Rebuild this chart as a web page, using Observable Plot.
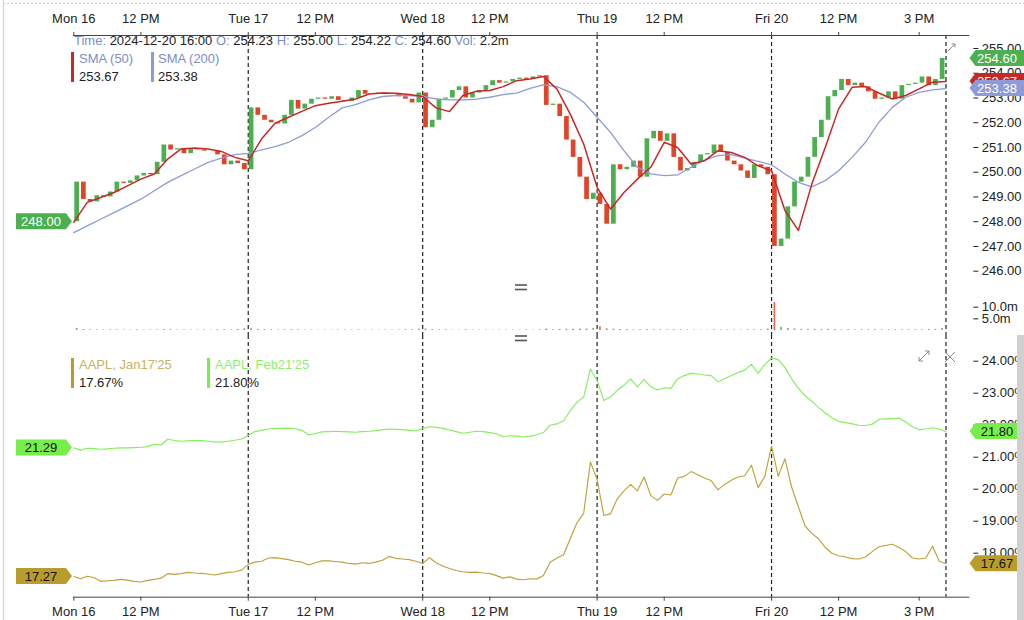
<!DOCTYPE html>
<html><head><meta charset="utf-8">
<script src="https://cdn.jsdelivr.net/npm/d3@7"></script>
<script src="https://cdn.jsdelivr.net/npm/@observablehq/plot@0.6"></script>
<style>
body{margin:0;background:#fff;font-family:"Liberation Sans",Arial,Helvetica,sans-serif;}
#wrap{position:relative;width:1024px;height:620px;overflow:hidden;background:#fff;}
.lbl{position:absolute;font-size:13px;white-space:nowrap;line-height:15px;color:#222;}
.k{color:#7d8ec4;}
.bar{position:absolute;width:3px;height:30px;}
</style></head><body><div id="wrap"></div>
<script>
// ---------- data ----------
const tickT = [0, 2.5, 6.5, 9, 13, 15.5, 19.5, 22, 26, 28.5, 31.5];
const tickLabels = ["Mon 16","12 PM","Tue 17","12 PM","Wed 18","12 PM","Thu 19","12 PM","Fri 20","12 PM","3 PM"];
const dayBreaks = [6.5, 13, 19.5, 26, 32.5];
const priceTicks = [246,247,248,249,250,251,252,253,254,255];
const volTicks = [5, 10];
const ivTicks = [18,19,20,21,22,23,24];
const barStep = 0.25;   // 15-minute bars (trading hours)
const smaStep = 0.5;

// price at each 15-min mark (first = session open)
const price = [248.00,
 249.6,248.9,248.8,249.05,249.0,249.2,249.6,249.55,249.65,249.85,249.95,249.9,250.4,251.1,250.9,250.95,250.75,250.95,250.9,250.85,250.85,250.7,250.3,250.45,250.35,250.1,
 252.6,252.3,252.1,252.0,251.95,252.3,252.9,252.55,252.75,252.95,253.0,252.95,253.05,252.9,252.85,253.0,253.3,253.15,253.15,253.2,253.15,253.15,253.05,252.95,252.8,253.2,
 251.8,252.1,252.95,253.0,253.3,253.45,253.0,253.2,253.3,253.5,253.7,253.6,253.65,253.75,253.8,253.75,253.85,253.9,252.7,252.75,252.25,251.3,250.6,249.8,248.9,249.15,
 248.7,247.9,250.3,250.1,250.2,250.45,249.8,251.35,251.65,251.25,251.55,250.6,250.05,250.15,250.4,250.7,250.75,251.1,250.8,250.45,250.3,250.05,249.75,250.3,250.2,249.9,
 247.0,247.3,248.6,249.6,249.8,250.6,251.4,252.1,253.05,253.3,253.75,253.5,253.6,253.45,253.25,252.95,253.0,253.25,252.95,253.5,253.55,253.6,253.85,253.5,253.75,254.6];

const volume = [
 0.9,0.4,0.3,0.3,0.2,0.3,0.3,0.2,0.2,0.3,0.2,0.2,0.3,0.4,0.3,0.2,0.2,0.2,0.2,0.2,0.2,0.3,0.3,0.3,0.4,0.7,
 0.8,0.4,0.3,0.3,0.2,0.3,0.4,0.3,0.2,0.2,0.2,0.2,0.2,0.2,0.2,0.2,0.3,0.2,0.2,0.2,0.2,0.2,0.2,0.3,0.3,0.6,
 0.6,0.4,0.3,0.3,0.2,0.2,0.3,0.2,0.2,0.2,0.2,0.2,0.2,0.2,0.2,0.2,0.2,0.3,0.6,0.4,0.4,0.5,0.5,0.6,0.6,0.9,
 1.6,0.7,0.6,0.4,0.4,0.3,0.3,0.4,0.3,0.3,0.3,0.3,0.3,0.2,0.2,0.2,0.2,0.3,0.2,0.2,0.2,0.2,0.3,0.3,0.3,0.6,
 12.0,1.4,0.9,0.7,0.5,0.5,0.5,0.4,0.5,0.4,0.3,0.3,0.3,0.3,0.3,0.3,0.3,0.3,0.3,0.3,0.3,0.3,0.3,0.4,0.5,0.9];

const sma50 = [
 247.97,248.78,248.98,249.18,249.45,249.72,249.93,250.53,250.94,250.98,250.94,250.84,250.60,250.46,
 251.35,251.98,252.22,252.46,252.69,252.79,252.87,252.96,253.16,253.20,253.19,253.14,253.06,
 252.60,252.45,253.10,253.27,253.30,253.46,253.70,253.77,253.87,253.37,252.35,251.14,249.39,
 248.51,249.18,249.72,250.20,251.21,251.00,250.33,250.46,250.87,250.80,250.60,250.26,250.06,
 248.45,247.65,249.52,251.00,252.56,253.43,253.46,253.20,252.96,253.10,253.37,253.64,253.67];

const sma200 = [
 247.56,247.83,248.10,248.37,248.64,248.91,249.25,249.59,249.86,250.13,250.40,250.57,250.71,250.76,
 250.90,251.03,251.21,251.48,251.81,252.22,252.60,252.73,252.92,253.06,253.10,253.10,253.06,
 252.96,252.92,252.92,252.95,253.03,253.14,253.20,253.39,253.53,253.46,253.23,252.83,252.22,
 251.61,250.87,250.20,249.93,249.86,249.89,250.20,250.49,250.67,250.71,250.57,250.44,250.30,
 249.93,249.59,249.41,249.66,250.06,250.60,251.21,252.02,252.62,253.03,253.23,253.33,253.38];

const ivFeb = [
 21.29,21.22,21.28,21.27,21.25,21.26,21.28,21.29,21.29,21.30,21.31,21.33,21.40,21.38,21.56,21.52,21.50,21.51,21.52,21.52,21.50,21.48,21.47,21.50,21.53,21.57,
 21.68,21.80,21.84,21.88,21.90,21.90,21.91,21.89,21.84,21.70,21.74,21.79,21.80,21.81,21.80,21.79,21.78,21.80,21.81,21.83,21.86,21.88,21.87,21.86,21.84,21.82,
 21.90,21.95,21.93,21.90,21.85,21.80,21.75,21.78,21.81,21.80,21.77,21.73,21.64,21.67,21.66,21.63,21.66,21.70,21.77,22.00,22.04,22.14,22.45,22.72,22.88,23.75,
 23.40,22.77,22.88,23.09,23.25,23.45,23.20,23.43,23.20,23.10,23.17,23.15,23.45,23.55,23.62,23.60,23.57,23.55,23.36,23.45,23.55,23.65,23.72,23.90,23.62,23.90,
 24.10,24.05,23.80,23.45,23.15,22.92,22.75,22.55,22.38,22.23,22.12,22.08,22.04,22.00,21.99,22.03,22.18,22.20,22.20,22.22,22.10,21.95,21.86,21.88,21.92,21.88,21.80];

const ivJan = [
 17.27,17.20,17.28,17.24,17.12,17.14,17.15,17.18,17.16,17.12,17.10,17.15,17.18,17.22,17.36,17.34,17.36,17.40,17.38,17.37,17.35,17.32,17.36,17.40,17.42,17.47,
 17.65,17.72,17.75,17.85,17.86,17.83,17.80,17.75,17.72,17.63,17.70,17.76,17.76,17.74,17.72,17.68,17.66,17.70,17.68,17.72,17.78,17.90,17.84,17.82,17.80,17.75,
 17.68,17.86,17.70,17.60,17.52,17.46,17.42,17.40,17.41,17.38,17.37,17.30,17.22,17.26,17.19,17.17,17.20,17.19,17.30,17.72,17.85,17.95,18.45,18.95,19.25,20.85,
 20.30,19.18,19.23,19.70,19.95,20.15,19.95,20.38,19.80,19.65,19.85,19.82,20.35,20.40,20.55,20.45,20.35,20.27,19.98,20.15,20.28,20.38,20.42,20.75,20.05,20.40,
 21.35,20.40,20.95,20.06,19.45,18.85,18.62,18.45,18.18,18.00,17.92,17.88,17.83,17.82,17.88,18.05,18.20,18.24,18.28,18.18,18.05,17.85,17.82,17.85,18.22,17.75,17.67];

// ---------- derived tables ----------
const bars = price.slice(1).map((c, i) => ({t1: i*barStep, t2: (i+1)*barStep, open: price[i], close: c, vol: volume[i]}));
const smaPts = sma50.map((v, k) => ({t: k*smaStep, s50: v, s200: sma200[k]}));
const ivPts = ivFeb.map((v, j) => ({t: j*barStep, feb: v, jan: ivJan[j]}));

// ---------- styles ----------
const UP = "#4caf50", DOWN = "#e0452a";
const SMA50C = "#c62828", SMA200C = "#8f9bd6";
const GOLD = "#bfa23a", LGREEN = "#84ee5c";
const W = 1024, X0 = 73.3, X1 = 968.3;
const xDomain = [0, 33.35];
const FONT = '"Liberation Sans", Arial, Helvetica, sans-serif';
const wrap = document.getElementById("wrap");
const common = {width: W, marginLeft: X0, marginRight: W - X1,
  style: {fontFamily: FONT, fontSize: "13px", color: "#222", background: "transparent", overflow: "visible"}};
const dash = () => Plot.ruleX(dayBreaks, {stroke: "#222", strokeWidth: 1.2, strokeDasharray: "4,3"});
const fmtX = d => tickLabels[tickT.indexOf(d)];
const dirColor = d => d.close >= d.open ? UP : DOWN;

function place(el, top) {
  el.style.position = "absolute"; el.style.left = "0px"; el.style.top = top + "px";
  wrap.appendChild(el);
}
function tag(svg, side, y, text, bg, fg) {
  const h = 16, g = d3.select(svg).append("g");
  let pts, tx;
  if (side === "left") { pts = [[16,y-h/2],[66,y-h/2],[72,y],[66,y+h/2],[16,y+h/2]]; tx = 41; }
  else { pts = [[969.5,y],[975.5,y-h/2],[1024,y-h/2],[1024,y+h/2],[975.5,y+h/2]]; tx = 997; }
  g.append("polygon").attr("points", pts.map(p => p.join(",")).join(" ")).attr("fill", bg);
  g.append("text").attr("x", tx).attr("y", y).attr("dy", "0.36em").attr("text-anchor", "middle")
    .attr("fill", fg).style("font-size", "13px").style("font-family", FONT).text(text);
}

// ---------- price pane ----------
const pricePlot = Plot.plot({
  ...common, height: 290, marginTop: 35, marginBottom: 0,
  x: {domain: xDomain},
  y: {domain: [246, 255], range: [270.7, 48]},
  color: {type: "identity"},
  marks: [
    dash(),
    Plot.rect(bars, {x1: "t1", x2: "t2", y1: "open", y2: "close", fill: dirColor, insetLeft: 1, insetRight: 1}),
    Plot.line(smaPts, {x: "t", y: "s200", stroke: SMA200C, strokeWidth: 1.3}),
    Plot.line(smaPts, {x: "t", y: "s50", stroke: SMA50C, strokeWidth: 1.5}),
    Plot.frame({anchor: "top", stroke: "#444"}),
    Plot.axisX(tickT, {anchor: "top", label: null, tickSize: 4, tickPadding: 9, tickFormat: fmtX, fontSize: 13, stroke: "#444"}),
    Plot.axisY(priceTicks, {anchor: "right", label: null, tickSize: 5, tickPadding: 4, dx: 4, tickFormat: d => d.toFixed(2), fontSize: 13})
  ]
});
place(pricePlot, 0);
{
  const y = pricePlot.scale("y");
  tag(pricePlot, "left", y.apply(price[0]), price[0].toFixed(2), UP, "#fff");
  tag(pricePlot, "right", y.apply(price[price.length-1]), price[price.length-1].toFixed(2), UP, "#fff");
  tag(pricePlot, "right", y.apply(sma50[sma50.length-1]), sma50[sma50.length-1].toFixed(2), SMA50C, "#fff");
  tag(pricePlot, "right", y.apply(sma200[sma200.length-1]), sma200[sma200.length-1].toFixed(2), SMA200C, "#fff");
}

// ---------- volume pane ----------
const volPlot = Plot.plot({
  ...common, height: 45, marginTop: 0, marginBottom: 0,
  x: {domain: xDomain, axis: null},
  y: {domain: [0, 10], range: [40, 16.7]},
  color: {type: "identity"},
  marks: [
    dash(),
    Plot.rect(bars, {x1: "t1", x2: "t2", y1: 0, y2: "vol", fill: dirColor, insetLeft: 2.5, insetRight: 2.5, fillOpacity: 0.8}),
    Plot.axisY(volTicks, {anchor: "right", label: null, tickSize: 5, tickPadding: 4, dx: 4, tickFormat: d => d.toFixed(1) + "m", fontSize: 13})
  ]
});
place(volPlot, 290);

// ---------- implied volatility pane ----------
const ivPlot = Plot.plot({
  ...common, height: 285, marginTop: 0, marginBottom: 23.3,
  x: {domain: xDomain},
  y: {domain: [18, 24], range: [217.7, 25.7]},
  marks: [
    dash(),
    Plot.line(ivPts, {x: "t", y: "jan", stroke: GOLD, strokeWidth: 1.15}),
    Plot.line(ivPts, {x: "t", y: "feb", stroke: LGREEN, strokeWidth: 1.15}),
    Plot.frame({anchor: "bottom", stroke: "#444"}),
    Plot.axisX(tickT, {anchor: "bottom", label: null, tickSize: 4, tickPadding: 6, tickFormat: fmtX, fontSize: 13, stroke: "#444"}),
    Plot.axisY(ivTicks, {anchor: "right", label: null, tickSize: 5, tickPadding: 4, dx: 4, tickFormat: d => d.toFixed(2) + "%", fontSize: 13})
  ]
});
place(ivPlot, 335);
{
  const y = ivPlot.scale("y");
  tag(ivPlot, "left", y.apply(ivFeb[0]), ivFeb[0].toFixed(2), "#77ee4c", "#111");
  tag(ivPlot, "left", y.apply(ivJan[0]), ivJan[0].toFixed(2), "#b89c2c", "#111");
  tag(ivPlot, "right", y.apply(ivFeb[ivFeb.length-1]), ivFeb[ivFeb.length-1].toFixed(2), "#77ee4c", "#111");
  tag(ivPlot, "right", y.apply(ivJan[ivJan.length-1]), ivJan[ivJan.length-1].toFixed(2), "#b89c2c", "#111");
}

// ---------- legends & chrome ----------
function html(s) { const d = document.createElement("div"); d.innerHTML = s; wrap.appendChild(d.firstElementChild); }
html(`<div class="lbl" style="left:74px;top:33px"><span class="k">Time:</span> 2024-12-20 16:00 <span class="k">O:</span> 254.23 <span class="k">H:</span> 255.00 <span class="k">L:</span> 254.22 <span class="k">C:</span> 254.60 <span class="k">Vol:</span> 2.2m</div>`);
html(`<div class="bar" style="left:71px;top:52px;background:${SMA50C}"></div>`);
html(`<div class="lbl" style="left:79px;top:51px"><span class="k">SMA (50)</span></div>`);
html(`<div class="lbl" style="left:79px;top:69px">${sma50[sma50.length-1].toFixed(2)}</div>`);
html(`<div class="bar" style="left:151px;top:52px;background:${SMA200C}"></div>`);
html(`<div class="lbl" style="left:158px;top:51px"><span class="k">SMA (200)</span></div>`);
html(`<div class="lbl" style="left:158px;top:69px">${sma200[sma200.length-1].toFixed(2)}</div>`);
html(`<div class="bar" style="left:71px;top:358px;background:#b89c2c"></div>`);
html(`<div class="lbl" style="left:79px;top:357px;color:#c8b25c">AAPL, Jan17'25</div>`);
html(`<div class="lbl" style="left:79px;top:375px">${ivJan[ivJan.length-1].toFixed(2)}%</div>`);
html(`<div class="bar" style="left:207px;top:358px;background:#77ee4c"></div>`);
html(`<div class="lbl" style="left:215px;top:357px;color:#8ef06a">AAPL, Feb21'25</div>`);
html(`<div class="lbl" style="left:215px;top:375px">${ivFeb[ivFeb.length-1].toFixed(2)}%</div>`);

const ns = "http://www.w3.org/2000/svg";
const chrome = document.createElementNS(ns, "svg");
chrome.setAttribute("width", 1024); chrome.setAttribute("height", 620);
chrome.style.position = "absolute"; chrome.style.left = "0"; chrome.style.top = "0"; chrome.style.pointerEvents = "none";
chrome.innerHTML = `
 <line x1="3.5" y1="0" x2="3.5" y2="620" stroke="#d9d9d9" stroke-width="1.5"/>
 <line x1="3" y1="3.5" x2="1024" y2="3.5" stroke="#c8c8c8" stroke-dasharray="2,2"/>
 <rect x="1017" y="335" width="7" height="285" fill="#cfcfcf"/>
 <g stroke="#555" stroke-width="1.6">
  <line x1="515" y1="285" x2="527" y2="285"/><line x1="515" y1="289.5" x2="527" y2="289.5"/>
  <line x1="515" y1="336" x2="527" y2="336"/><line x1="515" y1="340.5" x2="527" y2="340.5"/>
 </g>
 <g stroke="#888" stroke-width="1" fill="none">
  <line x1="948" y1="51" x2="955" y2="44"/><polyline points="951.5,44 955,44 955,47.5"/>
  <line x1="919" y1="361" x2="929" y2="351"/><polyline points="925,351 929,351 929,355"/><polyline points="919,357 919,361 923,361"/>
  <line x1="945" y1="352" x2="955" y2="362"/><line x1="955" y1="352" x2="945" y2="362"/>
 </g>`;
wrap.appendChild(chrome);
</script></body></html>
